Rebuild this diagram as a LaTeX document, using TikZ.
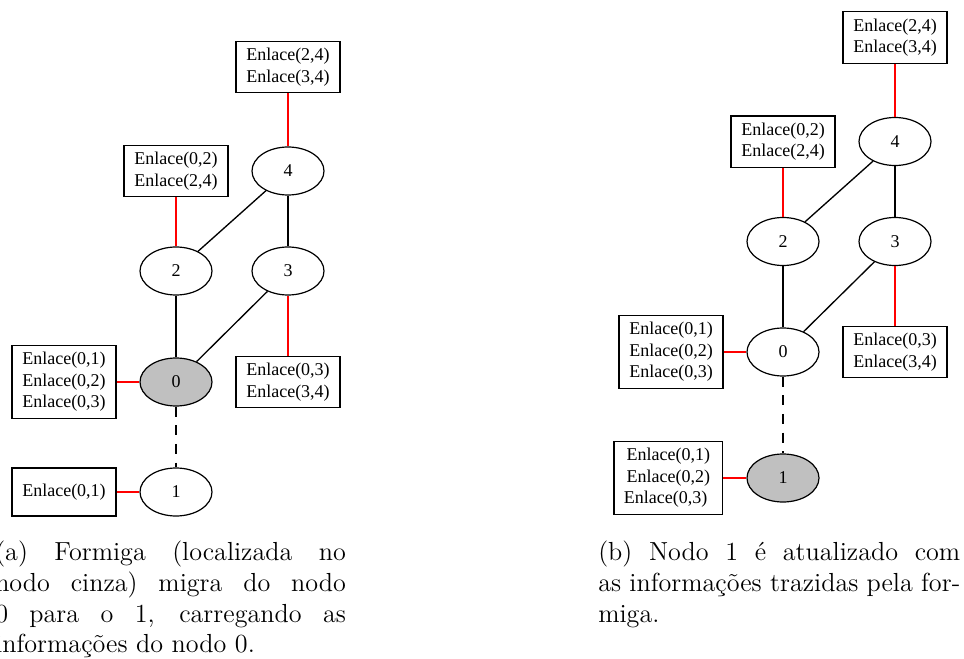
\documentclass[tikz,border=0pt]{standalone}
\usepackage{fontspec}
\newfontfamily\grafo{Liberation Serif}
\newfontfamily\legfont{lmroman12-regular.otf}
\usepackage{tikz}
\usetikzlibrary{
  shapes.geometric,
  chains,
  positioning,
  scopes
}
\definecolor{cinza}{RGB}{192,192,192}

\begin{document}
\begin{tikzpicture}[x=0.75pt,y=-0.75pt,
      nodo/.style={
         ellipse,
         draw=black,
         line width=0.9pt,
         minimum width=54pt,
         minimum height=36pt,
         inner sep=0pt,
         font=\grafo\fontsize{13.5}{16.1}\selectfont
      },
      formiga/.style={nodo,fill=cinza},
      tabela/.style={
         rectangle,
         draw=black,
         line width=0.9pt,
         minimum width=78pt,
         minimum height=36pt,
         inner xsep=0pt,
         inner ysep=5.2pt,
         align=center,
         font=\grafo\fontsize{13.5}{16.1}\selectfont
      },
      legenda/.style={
         anchor=north west,
         inner sep=0pt,
         align=left,
         font=\legfont\fontsize{19.6}{23}\selectfont
      },
      enlace/.style={draw=black,line width=1pt},
      info/.style={draw=red,line width=1pt},
      migra/.style={draw=black,line width=1pt,dash pattern=on 7.5pt off 6.5pt},
    ]
    \useasboundingbox (0,0) rectangle (964,659);
    % (a) antes da migracao
    \node (a4) [nodo] at (288,171) {4};
    \node (a2) [nodo] at (176,271) {2};
    \node (a3) [nodo] at (288,271) {3};
    \node (a0) [formiga] at (176,382) {0};
    \node (a1) [nodo] at (176,492) {1};
    \node (ta4) [tabela] at (288,67) {Enlace(2,4)\\Enlace(3,4)};
    \node (ta2) [tabela] at (176,171) {Enlace(0,2)\\Enlace(2,4)};
    \node (ta3) [tabela] at (288,382) {Enlace(0,3)\\Enlace(3,4)};
    \node (ta0) [tabela] at (64,382) {Enlace(0,1)\\Enlace(0,2)\\Enlace(0,3)};
    \node (ta1) [tabela] at (64,492) {Enlace(0,1)};
    % (b) depois da migracao
    \node (b4) [nodo] at (895,141.5) {4};
    \node (b2) [nodo] at (783,241.5) {2};
    \node (b3) [nodo] at (895,241.5) {3};
    \node (b0) [nodo] at (783,352) {0};
    \node (b1) [formiga] at (783,478) {1};
    \node (tb4) [tabela] at (895,37.5) {Enlace(2,4)\\Enlace(3,4)};
    \node (tb2) [tabela] at (783,141.8) {Enlace(0,2)\\Enlace(2,4)};
    \node (tb3) [tabela] at (895,352) {Enlace(0,3)\\Enlace(3,4)};
    \node (tb0) [tabela] at (671,352) {Enlace(0,1)\\Enlace(0,2)\\Enlace(0,3)};
    \node (tb1) [tabela,minimum width=81.5pt] at (668.3,478) {Enlace(0,1)\\Enlace(0,2)\\\kern-4pt Enlace(0,3)};
    % legendas
    \node (capa) [legenda] at (-5,541) {%
      \makebox[263pt][s]{(a) Formiga (localizada no}\\
      \makebox[263pt][s]{nodo cinza) migra do nodo}\\
      \makebox[263pt][s]{0 para o 1, carregando as}\\
      informações do nodo 0.};
    \node (capb) [legenda] at (598,541) {%
      \makebox[271.5pt][s]{(b) Nodo 1 é atualizado com}\\
      \makebox[271.5pt][s]{as informações trazidas pela for-}\\
      miga.};
  { [start chain]
       \chainin (a4);
       \chainin (a2)    [join=by enlace];
  }
  { [start chain]
       \chainin (a4);
       \chainin (a3)    [join=by enlace];
  }
  { [start chain]
       \chainin (a2);
       \chainin (a0)    [join=by enlace];
  }
  { [start chain]
       \chainin (a3);
       \chainin (a0)    [join=by enlace];
  }
  { [start chain]
       \chainin (a0);
       \chainin (a1)    [join=by migra];
  }
  { [start chain]
       \chainin (ta4);
       \chainin (a4)    [join=by info];
  }
  { [start chain]
       \chainin (ta2);
       \chainin (a2)    [join=by info];
  }
  { [start chain]
       \chainin (a3);
       \chainin (ta3)   [join=by info];
  }
  { [start chain]
       \chainin (ta0);
       \chainin (a0)    [join=by info];
  }
  { [start chain]
       \chainin (ta1);
       \chainin (a1)    [join=by info];
  }
  { [start chain]
       \chainin (b4);
       \chainin (b2)    [join=by enlace];
  }
  { [start chain]
       \chainin (b4);
       \chainin (b3)    [join=by enlace];
  }
  { [start chain]
       \chainin (b2);
       \chainin (b0)    [join=by enlace];
  }
  { [start chain]
       \chainin (b3);
       \chainin (b0)    [join=by enlace];
  }
  { [start chain]
       \chainin (b0);
       \chainin (b1)    [join=by migra];
  }
  { [start chain]
       \chainin (tb4);
       \chainin (b4)    [join=by info];
  }
  { [start chain]
       \chainin (tb2);
       \chainin (b2)    [join=by info];
  }
  { [start chain]
       \chainin (b3);
       \chainin (tb3)   [join=by info];
  }
  { [start chain]
       \chainin (tb0);
       \chainin (b0)    [join=by info];
  }
  { [start chain]
       \chainin (tb1);
       \chainin (b1)    [join=by info];
  }
\end{tikzpicture}
\end{document}
